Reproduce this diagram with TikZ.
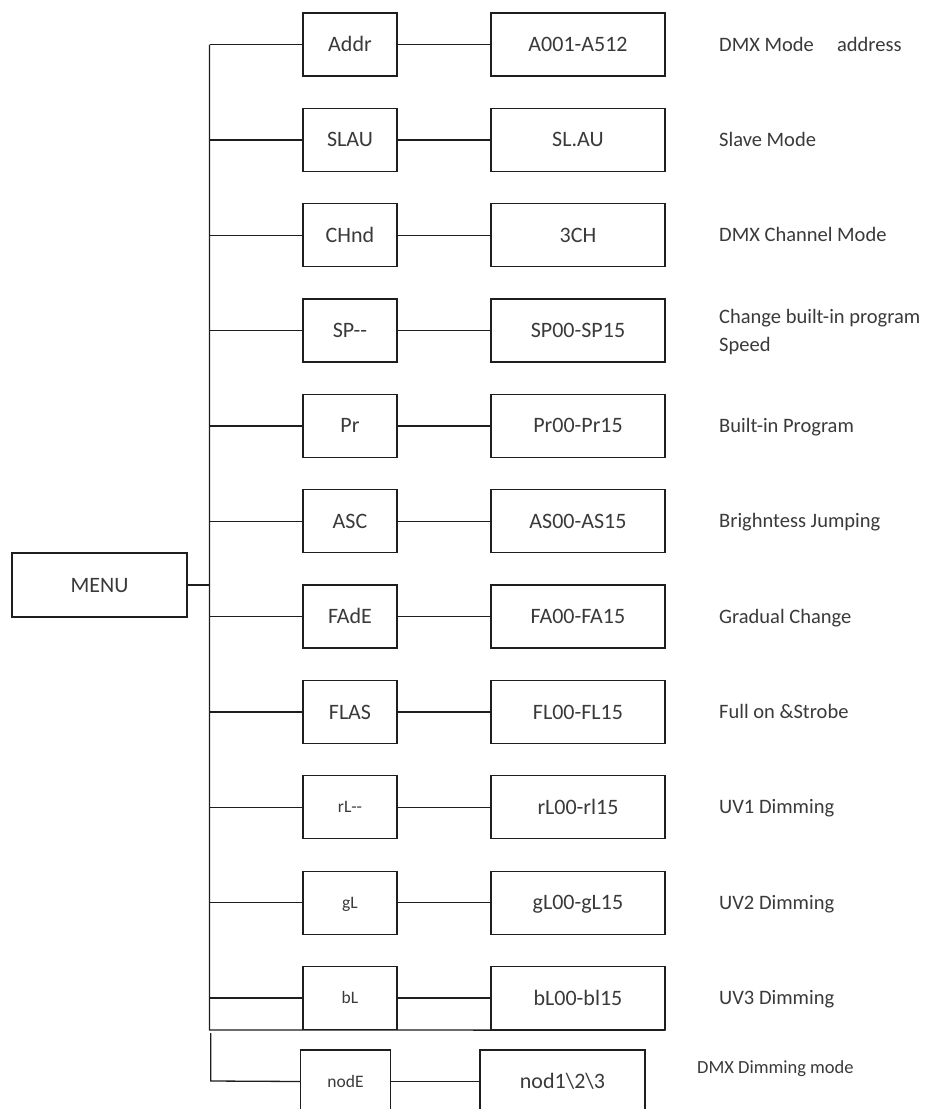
\documentclass[tikz,border=0pt]{standalone}
\usepackage{fontspec}
\setmainfont{Carlito}[Ligatures=TeXOff]
\definecolor{txt}{HTML}{3A3A3A}
\definecolor{ln}{HTML}{1E1E1E}
\begin{document}
\begin{tikzpicture}[x=1pt,y=-1pt,
  box/.style={draw=ln,line width=1.3pt,rectangle,inner sep=0pt,minimum height=63pt,
    text=txt,font=\fontsize{22}{26}\selectfont,text height=14.1pt,text depth=0pt},
  boxa/.style={box,minimum width=94pt},
  boxb/.style={box,minimum width=174pt},
  small/.style={font=\fontsize{17.5}{20}\selectfont,text height=11.2pt},
  lab/.style={anchor=base west,inner sep=0pt,text=txt,font=\fontsize{20.5}{28}\selectfont},
  conn/.style={draw=ln,line width=1.3pt}]
\useasboundingbox (0,0) rectangle (948,1109);
\clip (0,0) rectangle (948,1109);
\fill[white] (0,0) rectangle (948,1109);

% MENU
\node[box,minimum width=175pt,minimum height=64pt] (menu) at (99.5,585) {MENU};

% rows
\foreach \i/\a/\b/\st in {0/Addr/A001-A512/,1/SLAU/SL.AU/,2/CHnd/3CH/,3/SP--/SP00-SP15/,
  4/Pr/Pr00-Pr15/,5/ASC/AS00-AS15/,6/FAdE/FA00-FA15/,7/FLAS/FL00-FL15/,
  8/rL--/rL00-rl15/small,9/gL/gL00-gL15/small,10/bL/bL00-bl15/small}{
  \pgfmathsetmacro\yc{44.5+95.35*\i}
  \node[boxa,\st] (c1-\i) at (350,\yc) {\a};
  \node[boxb] (c2-\i) at (578,\yc) {\b};
  \coordinate (j-\i) at (209.5,\yc);
  \draw[conn] (j-\i) -- (c1-\i.west);
  \draw[conn] (c1-\i.east) -- (c2-\i.west);
}

% labels
\node[lab] (lab-0) at (719,51.1) {DMX Mode\hspace{18.5pt} address};
\node[lab] (lab-1) at (719,146.45) {Slave Mode};
\node[lab] (lab-2) at (719,241.8) {DMX Channel Mode};
\node[lab,anchor=west,align=left] (lab-3) at (719,332) {Change built-in program\\Speed};
\node[lab] (lab-4) at (719,432.5) {Built-in Program};
\node[lab] (lab-5) at (719,527.85) {Brighntess Jumping};
\node[lab] (lab-6) at (719,623.2) {Gradual Change};
\node[lab] (lab-7) at (719,718.55) {Full on \&Strobe};
\node[lab] (lab-8) at (719,813.9) {UV1 Dimming};
\node[lab] (lab-9) at (719,909.25) {UV2 Dimming};
\node[lab] (lab-10) at (719,1004.6) {UV3 Dimming};

% trunk
\coordinate (tbot) at (209.5,1030);
\coordinate (jm) at (209.5,585);
\draw[conn] (j-0) -- (tbot) -- (c2-10.south east);
\draw[conn] (menu.east) -- (jm);

% last row
\node[box,small,minimum width=89.5pt] (c1-11) at (345.5,1081.5) {nodE};
\node[box,minimum width=165pt] (c2-11) at (562.5,1081.5) {nod1\textbackslash 2\textbackslash 3};
\node[lab,font=\fontsize{18.5}{22}\selectfont] (lab-11) at (697,1073) {DMX Dimming mode};
\coordinate (t2top) at (210.7,1033);
\coordinate (t2bot) at (210.7,1081);
\draw[conn] (t2top) -- (t2bot) -- (c1-11.west);
\draw[conn] (c1-11.east) -- (c2-11.west);
\end{tikzpicture}
\end{document}
